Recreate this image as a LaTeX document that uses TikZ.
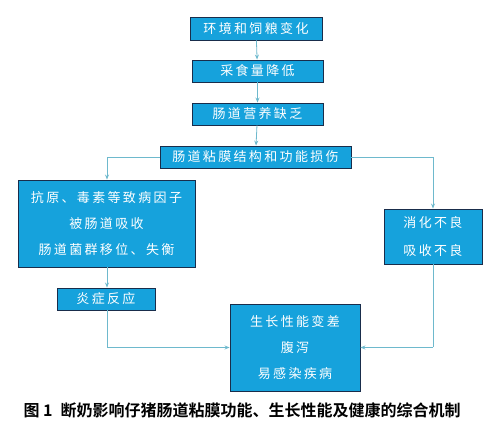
\documentclass[tikz,border=0pt]{standalone}
\usepackage{fontspec}
\newfontfamily\cjk[LetterSpace=18]{Noto Sans CJK SC}
\newfontfamily\cjkcap{Noto Sans CJK SC Bold}
\usetikzlibrary{arrows.meta}
\definecolor{boxblue}{RGB}{22,162,220}
\definecolor{boxline}{RGB}{25,45,75}
\definecolor{flowline}{RGB}{110,185,205}

\begin{document}
\begin{tikzpicture}[x=1pt,y=-1pt,
  stepbox/.style={draw=boxline,line width=0.9pt,fill=boxblue,text=white,align=center,
    inner sep=0pt,font=\cjk\fontsize{13}{26}\selectfont},
  flow/.style={draw=flowline,line width=0.8pt,-{Stealth[length=5pt,width=4pt]}}]
\useasboundingbox (0,0) rectangle (499,425);
\node[stepbox,minimum width=132pt,minimum height=23pt] (env) at (256,28.5) {环境和饲粮变化};
\node[stepbox,minimum width=131pt,minimum height=22pt] (feed) at (257.5,71) {采食量降低};
\node[stepbox,minimum width=131pt,minimum height=22pt] (nutr) at (257.5,114) {肠道营养缺乏};
\node[stepbox,minimum width=191pt,minimum height=22pt] (muc) at (255.5,157) {肠道粘膜结构和功能损伤};
\node[stepbox,minimum width=177pt,minimum height=87pt] (path) at (106.5,223.5) {抗原、毒素等致病因子\\被肠道吸收\\肠道菌群移位、失衡};
\node[stepbox,minimum width=98pt,minimum height=55pt,font=\cjk\fontsize{13}{28}\selectfont] (dig) at (433,236.5) {消化不良\\吸收不良};
\node[stepbox,minimum width=98pt,minimum height=22pt] (infl) at (106,299) {炎症反应};
\node[stepbox,minimum width=130pt,minimum height=87pt] (grow) at (295,347.5) {生长性能变差\\腹泻\\易感染疾病};
\coordinate (lt) at (107,157);
\coordinate (rt) at (433,157);
\coordinate (lb) at (107,347.5);
\coordinate (rb) at (433,347.5);
\draw[flow] (env) -- (feed);
\draw[flow] (feed) -- (nutr);
\draw[flow] (nutr) -- (muc);
\draw[flow] (muc.west) -- (lt) -- (path.north -| lt);
\draw[flow] (muc.east) -- (rt) -- (dig.north -| rt);
\draw[flow] (path.south -| lt) -- (infl.north -| lt);
\draw[draw=flowline,line width=0.8pt] (infl.south -| lt) -- (lb);
\draw[flow] (lb) -- (grow.west);
\draw[draw=flowline,line width=0.8pt] (dig.south -| rb) -- (rb);
\draw[flow] (rb) -- (grow.east);
\node[anchor=west,font=\cjkcap\fontsize{16}{16}\selectfont] (cap) at (20,410) {图 1\hspace{8pt}断奶影响仔猪肠道粘膜功能、生长性能及健康的综合机制};
\end{tikzpicture}
\end{document}
